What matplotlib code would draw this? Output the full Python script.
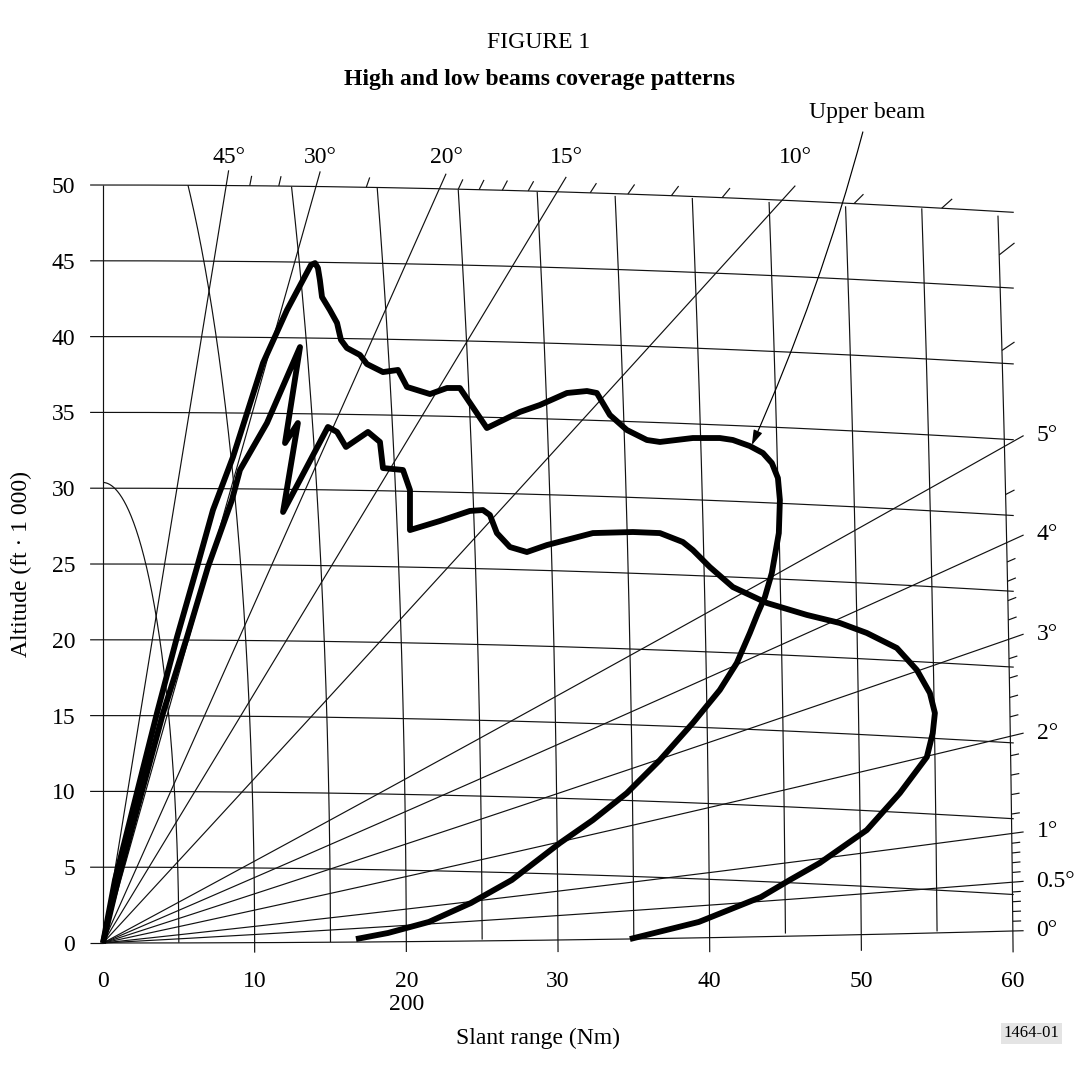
import numpy as np
import matplotlib
matplotlib.use("Agg")
import matplotlib.pyplot as plt

plt.rcParams['font.family'] = ['Liberation Serif', 'DejaVu Serif']

# ---------------- chart data ----------------
altitude_ticks = [0, 5, 10, 15, 20, 25, 30, 35, 40, 45, 50]          # ft x 1000
range_ticks = [0, 10, 20, 30, 40, 50, 60]                              # Nm
range_rings = [5, 10, 15, 20, 25, 30, 35, 40, 45, 50, 55, 60]          # Nm
altitude_levels = [5, 10, 15, 20, 25, 30, 35, 40, 45, 50]              # ft x 1000

side_angles = [0, 0.5, 1, 2, 3, 4, 5]                                  # degrees
side_labels = ['0°', '0.5°', '1°', '2°', '3°', '4°', '5°']
top_angles = [10, 15, 20, 30, 45]                                      # degrees
top_labels = ['10°', '15°', '20°', '30°', '45°']
top_marks = [8, 9, 11, 12, 13, 14, 16, 17, 18, 19, 25, 35, 40]
side_marks = [0.1, 0.2, 0.3, 0.4, 0.6, 0.7, 0.8, 0.9, 1.2, 1.4, 1.6, 1.8,
              2.2, 2.4, 2.6, 2.8, 3.2, 3.4, 3.6, 3.8, 4.5, 6, 7]

upper_beam_range = [0.0, 0.79, 3.56, 4.88, 6.20, 7.25, 8.57, 10.55, 12.13, 13.71,
                    13.98, 14.17, 14.30, 14.44, 14.96, 15.43, 15.69, 16.08, 16.94,
                    17.40, 18.46, 19.45, 20.04, 21.56, 22.68, 23.53, 25.31, 27.49,
                    28.81, 30.59, 31.91, 32.56, 33.42, 34.54, 35.86, 36.72, 38.89,
                    40.67, 41.53, 42.65, 43.51, 44.10, 44.50, 44.63, 44.56, 44.10,
                    43.64, 43.18, 42.65, 41.79, 40.67, 38.89, 36.72, 34.54, 32.30,
                    30.13, 26.96, 24.26, 21.49, 18.79, 16.68]
upper_beam_alt = [0.0, 4.16, 15.17, 20.18, 24.80, 28.56, 32.06, 38.26, 41.75, 44.72,
                  44.85, 44.53, 43.73, 42.61, 41.75, 40.90, 39.78, 39.25, 38.79,
                  38.19, 37.66, 37.80, 36.68, 36.21, 36.61, 36.61, 33.97, 35.03,
                  35.49, 36.28, 36.41, 36.28, 34.83, 33.84, 33.18, 33.05, 33.31,
                  33.31, 33.18, 32.78, 32.32, 31.66, 30.67, 29.22, 27.04, 24.41,
                  22.82, 21.77, 20.45, 18.47, 16.69, 14.51, 12.07, 9.89, 8.11,
                  6.60, 4.16, 2.64, 1.39, 0.66, 0.26]

lower_beam_range = [0.0, 0.99, 3.96, 5.54, 6.92, 8.50, 9.03, 10.81, 12.99, 12.00,
                    12.85, 11.87, 14.83, 15.43, 16.02, 17.47, 18.26, 18.46, 19.78,
                    20.24, 20.24, 22.22, 24.19, 25.05, 25.51, 25.97, 26.83, 27.95,
                    29.27, 32.30, 34.94, 36.72, 38.23, 38.89, 40.01, 41.53, 43.77,
                    46.41, 48.58, 50.36, 52.34, 53.66, 54.52, 54.85, 54.71, 54.32,
                    52.54, 50.36, 47.26, 45.29, 43.38, 39.29, 34.74]
lower_beam_alt = [0.0, 4.16, 15.17, 20.18, 24.80, 29.22, 31.20, 34.30, 39.31, 32.98,
                  34.30, 28.43, 34.04, 33.71, 32.72, 33.71, 33.05, 31.33, 31.20,
                  29.88, 27.24, 27.84, 28.50, 28.56, 28.23, 27.04, 26.12, 25.79,
                  26.25, 27.04, 27.11, 27.04, 26.45, 25.92, 24.80, 23.48, 22.43,
                  21.64, 21.11, 20.45, 19.46, 18.01, 16.49, 15.17, 13.85, 12.27,
                  9.89, 7.45, 5.28, 4.16, 3.03, 1.39, 0.26]

# ---------------- diagram geometry ----------------
RAY_SCALE = 6.15      # ft x 1000 per Nm along elevation rays
RAY_BEND = 0.00022    # upward bending of the rays (refraction)
RING_SCALE = 6.076    # ft x 1000 per Nm for the slant-range rings
RING_LEAN = 1.63e-4   # lean of the range rings with height
DROOP = 1.8 / 3600.0  # earth-curvature drop of the altitude lines
TOP = 50

GRID = dict(color='#111111', lw=0.85, clip_on=False, solid_capstyle='butt')


def ray_y(x, th):
    return RAY_SCALE * x * np.tan(np.radians(th)) + RAY_BEND * x ** 2


def alt_y(x, h):
    return h - DROOP * x ** 2


def ring_xy(R, phi):
    y = RING_SCALE * R * np.sin(phi)
    x = R * np.cos(phi) - RING_LEAN * R * y
    return x, y


def ring_x_at(R, y):
    return np.sqrt(np.maximum(R ** 2 - (y / RING_SCALE) ** 2, 0)) - RING_LEAN * R * y


def ray_x_where(th, target):
    xs = np.linspace(0.0, 64.0, 64001)
    f = ray_y(xs, th) - target(xs)
    i = np.argmax(f >= 0)
    return xs[i]


fig = plt.figure(figsize=(10.79, 10.77), dpi=100)
ax = fig.add_axes([103 / 1079, 134 / 1077, 910 / 1079, 758 / 1077])
ax.set_xlim(0, 60)
ax.set_ylim(0, 50)
for s in ax.spines.values():
    s.set_visible(False)

# altitude lines (curved with range)
xa = np.linspace(-0.85, 60.05, 300)
for h in altitude_levels:
    ax.plot(xa, alt_y(xa, h), **GRID)
ax.plot([-0.85, 0], [0, 0], **GRID)
ax.plot([0, 0], [0, TOP], **GRID)

# slant-range rings
phi = np.linspace(-0.02, np.pi / 2, 2000)
for R in range_rings:
    x, y = ring_xy(R, phi)
    top_ok = y <= alt_y(x, TOP)
    if R % 10 == 0:
        low_ok = y >= -0.65
    else:
        low_ok = y >= ray_y(np.maximum(x, 0), 0)
    m = top_ok & low_ok & (x >= 0)
    ax.plot(x[m], y[m], **GRID)

# elevation rays ending at the right-hand edge
for th, lab in zip(side_angles, side_labels):
    xr = np.linspace(0, 60.7, 400)
    ax.plot(xr, ray_y(xr, th), **GRID)
    ax.text(61.55, ray_y(60.7, th), lab, fontsize=17, ha='left', va='center',
            clip_on=False)

# elevation rays ending above the top altitude line
for th, lab in zip(top_angles, top_labels):
    xe = ray_x_where(th, lambda x: alt_y(x, TOP) + 1.0)
    xr = np.linspace(0, xe, 400)
    ax.plot(xr, ray_y(xr, th), **GRID)
    ax.text(xe, 51.8, lab, fontsize=17, ha='center', va='center', clip_on=False)

# short elevation marks on the top altitude line
for th in top_marks:
    x0 = ray_x_where(th, lambda x: alt_y(x, TOP))
    x1 = ray_x_where(th, lambda x: alt_y(x, TOP) + 0.65)
    xr = np.linspace(x0, x1, 20)
    ax.plot(xr, ray_y(xr, th), **GRID)

# short elevation marks on the 60 Nm ring
for th in side_marks:
    x0 = 60.0
    for _ in range(30):
        x0 = ring_x_at(60, ray_y(x0, th))
    x1 = max(x0 + 0.55, 60.1)
    xr = np.linspace(x0, x1, 20)
    ax.plot(xr, ray_y(xr, th), **GRID)

# coverage patterns
beam_style = dict(color='black', lw=4.2, clip_on=False,
                  solid_joinstyle='round', solid_capstyle='butt')
ax.plot(upper_beam_range, upper_beam_alt, **beam_style)
ax.plot(lower_beam_range, lower_beam_alt, **beam_style)

# axes ticks and labels
ax.set_xticks(range_ticks)
ax.set_xticklabels([str(v) for v in range_ticks])
ax.set_yticks(altitude_ticks)
ax.set_yticklabels([str(v) for v in altitude_ticks])
ax.tick_params(axis='both', length=0, labelsize=17)
ax.tick_params(axis='x', pad=20)
ax.tick_params(axis='y', pad=20)

ax.text(-5.35, 25.0, 'Altitude (ft · 1 000)', rotation=90, fontsize=17,
        ha='center', va='center', clip_on=False)
ax.text(20, -4.05, '200', fontsize=17, ha='center', va='center', clip_on=False)
ax.text(28.7, -6.3, 'Slant range (Nm)', fontsize=17, ha='center', va='center',
        clip_on=False)
ax.text(61.2, -5.96, '1464-01', fontsize=12, ha='center', va='center',
        clip_on=False,
        bbox=dict(boxstyle='square,pad=0.15', facecolor='#e4e4e4', edgecolor='none'))

# beam annotation
ax.annotate('', xy=(42.78, 32.85), xytext=(50.1, 53.5),
            arrowprops=dict(arrowstyle='-|>,head_length=0.9,head_width=0.28',
                            color='black', lw=0.85, shrinkA=0, shrinkB=0,
                            connectionstyle='arc3,rad=-0.04'),
            annotation_clip=False)
ax.text(50.4, 54.75, 'Upper beam', fontsize=17, ha='center', va='center',
        clip_on=False)

fig.text(539 / 1079, 1 - 43 / 1077, 'FIGURE 1', fontsize=17, ha='center',
         va='center')
fig.text(539 / 1079, 1 - 79 / 1077, 'High and low beams coverage patterns',
         fontsize=17, fontweight='bold', ha='center', va='center')

fig.savefig('out.png', dpi=100, facecolor='white')
